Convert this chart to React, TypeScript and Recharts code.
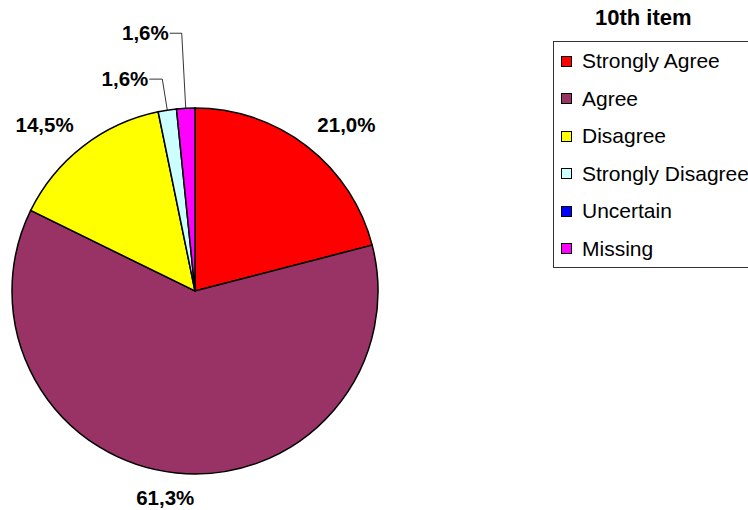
import { PieChart, Pie, Cell, Legend } from 'recharts'

const categories = ['Strongly Agree', 'Agree', 'Disagree', 'Strongly Disagree', 'Uncertain', 'Missing']
const counts = [13, 38, 9, 1, 0, 1]
const colors = ['#FF0000', '#993366', '#FFFF00', '#CCFFFF', '#0000FF', '#FF00FF']
const chartTitle = '10th item'

const data = categories.map((name, i) => ({ name, value: counts[i] }))

const FONT = '"Liberation Sans", Arial, sans-serif'
const RAD = Math.PI / 180

// leader lines for the thin slices: how far up, how far across
const leaders: Record<number, { rise: number; lean: number; run: number }> = {
  3: { rise: 31, lean: 5, run: 13 },
  5: { rise: 75, lean: 4, run: 12 }
}

function renderLabel(props: any) {
  const { cx, cy, midAngle, outerRadius, percent, index } = props
  if (!percent) return null
  const text = (percent * 100).toFixed(1).replace('.', ',') + '%'
  const cos = Math.cos(midAngle * RAD)
  const sin = Math.sin(midAngle * RAD)

  const leader = leaders[index]
  if (leader) {
    const ex = cx + outerRadius * cos
    const ey = cy - outerRadius * sin
    const bx = ex - leader.lean
    const by = ey - leader.rise
    const tx = bx - leader.run
    return (
      <g>
        <polyline points={`${ex},${ey} ${bx},${by} ${tx},${by}`} fill="none" stroke="#000" strokeWidth={0.8} />
        <text x={tx - 1} y={by + 7} textAnchor="end" fontFamily={FONT} fontWeight="bold" fontSize={20.5} fill="#000">
          {text}
        </text>
      </g>
    )
  }

  const r = outerRadius + 12
  const px = cx + r * cos
  const py = cy - r * sin
  let anchor: 'start' | 'end' | 'middle' = 'middle'
  let x = px
  if (cos > 0.25) { anchor = 'start'; x = px + 3 }
  else if (cos < -0.25) { anchor = 'end'; x = px - 2 }
  else x = px - 10
  const y = sin > 0 ? py - 5 : py + 20
  return (
    <text x={x} y={y} textAnchor={anchor} fontFamily={FONT} fontWeight="bold" fontSize={20.5} fill="#000">
      {text}
    </text>
  )
}

function renderLegend() {
  return (
    <div style={{ position: 'relative', width: 748, height: 510, fontFamily: FONT, pointerEvents: 'none' }}>
      <div style={{ position: 'absolute', left: 595, top: 5, fontSize: 22, fontWeight: 'bold', color: '#000', whiteSpace: 'nowrap' }}>
        {chartTitle}
      </div>
      <div style={{ position: 'absolute', left: 553, top: 41, width: 240, height: 225, border: '1px solid #333', background: '#fff' }}>
        {categories.map((c, i) => (
          <div key={c} style={{ position: 'absolute', left: 7, top: 7 + i * 37.5, height: 24, display: 'flex', alignItems: 'center', whiteSpace: 'nowrap' }}>
            <span style={{ display: 'inline-block', width: 9, height: 9, background: colors[i], border: '1.5px solid #000', marginRight: 10 }} />
            <span style={{ fontSize: 21, color: '#000', lineHeight: '24px' }}>{c}</span>
          </div>
        ))}
      </div>
    </div>
  )
}

export default function App() {
  return (
    <div style={{ position: 'absolute', left: 0, top: 0, width: 748, height: 510, overflow: 'hidden', background: '#fff' }}>
      <PieChart width={748} height={510} margin={{ top: 0, right: 0, bottom: 0, left: 0 }}>
        <Pie
          data={data}
          dataKey="value"
          nameKey="name"
          cx={195}
          cy={291}
          outerRadius={183}
          startAngle={90}
          endAngle={-270}
          stroke="#000"
          strokeWidth={1.5}
          label={renderLabel}
          labelLine={false}
          isAnimationActive={false}
        >
          {data.map((d, i) => (
            <Cell key={d.name} fill={colors[i]} />
          ))}
        </Pie>
        <Legend content={renderLegend} wrapperStyle={{ position: 'absolute', left: 0, top: 0, width: 748, height: 510 }} />
      </PieChart>
    </div>
  )
}
